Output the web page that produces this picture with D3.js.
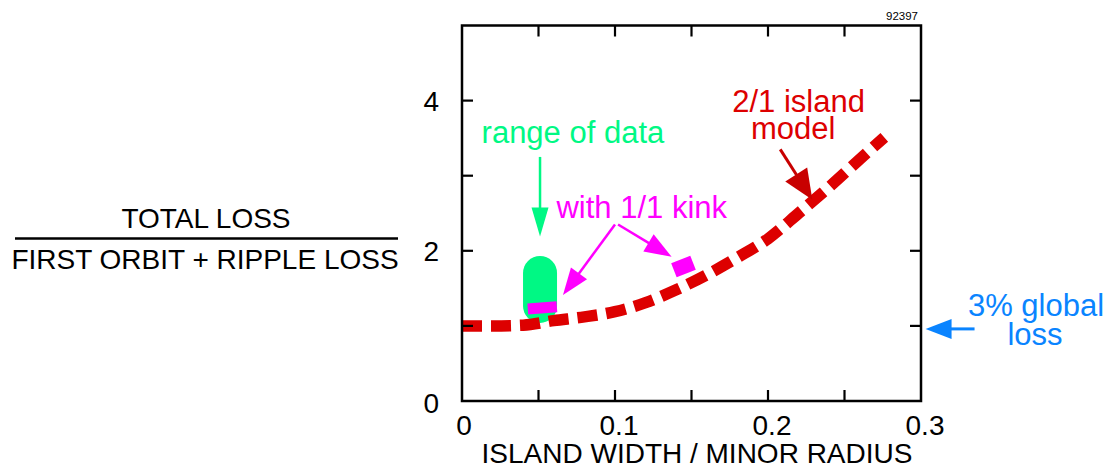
<!DOCTYPE html>
<html>
<head>
<meta charset="utf-8">
<script src="https://cdn.jsdelivr.net/npm/d3@7"></script>
<style>
  html, body { margin: 0; padding: 0; background: #fff; }
  svg { display: block; }
  text { font-family: "Liberation Sans", Arial, Helvetica, sans-serif; }
</style>
</head>
<body>
<svg id="chart" width="1112" height="468"></svg>
<script>
// 2/1 island model: total loss normalised to first-orbit + ripple loss
const islandWidth = [0, 0.02, 0.04, 0.06, 0.08, 0.10, 0.12, 0.14, 0.16, 0.18, 0.20, 0.22, 0.24, 0.26, 0.276];
const lossRatio   = [1.0, 1.0, 1.01, 1.07, 1.12, 1.19, 1.31, 1.48, 1.68, 1.91, 2.16, 2.50, 2.85, 3.22, 3.51];

// measured range of data (island width, min ratio, max ratio)
const dataRange = { x: 0.051, yMin: 1.04, yMax: 1.93 };

// model points with a 1/1 kink included: [x0, y0, x1, y1]
const kinkSegments = [
  [0.043, 1.225, 0.062, 1.255],
  [0.1385, 1.74, 0.151, 1.84]
];

// axis ticks
const xTicks = [0.05, 0.10, 0.15, 0.20, 0.25];
const xTickLabels = [0, 0.1, 0.2, 0.3];
const yTicks = [1, 2, 3, 4];
const yTickLabels = [0, 2, 4];

const svg = d3.select("#chart");
const plotLeft = 462, plotRight = 921, plotTop = 25.5, plotBottom = 401;

const x = d3.scaleLinear().domain([0, 0.3]).range([plotLeft, plotRight]);
const y = d3.scaleLinear().domain([0, 5]).range([plotBottom, plotTop]);

const RED = "#dd0000", DARKRED = "#c80000", GREEN = "#00f884", MAGENTA = "#ff00ff", BLUE = "#0a84ff";

// filled arrow: shaft from (x0,y0) to tip (x1,y1)
function arrow(x0, y0, x1, y1, color, headLen, headHalf, width) {
  const px0 = x(x0), py0 = y(y0), px1 = x(x1), py1 = y(y1);
  const dx = px1 - px0, dy = py1 - py0, len = Math.hypot(dx, dy);
  const ux = dx / len, uy = dy / len, nx = -uy, ny = ux;
  const bx = px1 - ux * headLen, by = py1 - uy * headLen;
  svg.append("line")
    .attr("x1", px0).attr("y1", py0).attr("x2", bx + ux).attr("y2", by + uy)
    .attr("stroke", color).attr("stroke-width", width);
  svg.append("path")
    .attr("d", `M${px1},${py1}L${bx + nx * headHalf},${by + ny * headHalf}L${bx - nx * headHalf},${by - ny * headHalf}Z`)
    .attr("fill", color);
}

// range of data capsule
const capW = 34;
svg.append("rect")
  .attr("x", x(dataRange.x) - capW / 2)
  .attr("y", y(dataRange.yMax))
  .attr("width", capW)
  .attr("height", y(dataRange.yMin) - y(dataRange.yMax))
  .attr("rx", capW / 2).attr("ry", capW / 2)
  .attr("fill", GREEN);

// model curve
const line = d3.line()
  .x((d, i) => x(islandWidth[i]))
  .y(d => y(d))
  .curve(d3.curveMonotoneX);

svg.append("path")
  .datum(lossRatio)
  .attr("d", line)
  .attr("fill", "none")
  .attr("stroke", RED)
  .attr("stroke-width", 11.5)
  .attr("stroke-dasharray", "20 9")
  .attr("stroke-linecap", "butt");

// 1/1 kink points
svg.selectAll("line.kink")
  .data(kinkSegments)
  .join("line")
  .attr("class", "kink")
  .attr("x1", d => x(d[0])).attr("y1", d => y(d[1]))
  .attr("x2", d => x(d[2])).attr("y2", d => y(d[3]))
  .attr("stroke", MAGENTA)
  .attr("stroke-width", (d, i) => i === 0 ? 11 : 15);

// frame
svg.append("rect")
  .attr("x", plotLeft).attr("y", plotTop)
  .attr("width", plotRight - plotLeft).attr("height", plotBottom - plotTop)
  .attr("fill", "none").attr("stroke", "#000").attr("stroke-width", 2.5);

// inward ticks on all four sides
const tickLen = 11;
const tickG = svg.append("g").attr("stroke", "#000").attr("stroke-width", 2.2);
xTicks.forEach(t => {
  tickG.append("line").attr("x1", x(t)).attr("x2", x(t)).attr("y1", plotBottom).attr("y2", plotBottom - tickLen);
  tickG.append("line").attr("x1", x(t)).attr("x2", x(t)).attr("y1", plotTop).attr("y2", plotTop + tickLen);
});
yTicks.forEach(t => {
  tickG.append("line").attr("x1", plotLeft).attr("x2", plotLeft + tickLen).attr("y1", y(t)).attr("y2", y(t));
  tickG.append("line").attr("x1", plotRight).attr("x2", plotRight - tickLen).attr("y1", y(t)).attr("y2", y(t));
});

// tick labels
svg.selectAll("text.xl")
  .data(xTickLabels)
  .join("text")
  .attr("class", "xl")
  .attr("x", d => x(d) + (d === 0 ? 2 : 4))
  .attr("y", 435)
  .attr("text-anchor", "middle")
  .attr("font-size", 28)
  .text(d => d);

svg.selectAll("text.yl")
  .data(yTickLabels)
  .join("text")
  .attr("class", "yl")
  .attr("x", 439)
  .attr("y", d => y(d) + 10 + (d === 0 ? 2 : 0))
  .attr("text-anchor", "end")
  .attr("font-size", 28)
  .text(d => d);

// axis titles
svg.append("text")
  .attr("x", 697).attr("y", 463)
  .attr("text-anchor", "middle").attr("font-size", 28)
  .text("ISLAND WIDTH / MINOR RADIUS");

svg.append("text")
  .attr("x", 206).attr("y", 228)
  .attr("text-anchor", "middle").attr("font-size", 28)
  .text("TOTAL LOSS");
svg.append("line")
  .attr("x1", 15).attr("x2", 398).attr("y1", 238.5).attr("y2", 238.5)
  .attr("stroke", "#000").attr("stroke-width", 2.3);
svg.append("text")
  .attr("x", 205).attr("y", 269)
  .attr("text-anchor", "middle").attr("font-size", 28)
  .text("FIRST ORBIT + RIPPLE LOSS");

// figure number
svg.append("text")
  .attr("x", 918).attr("y", 20)
  .attr("text-anchor", "end").attr("font-size", 11.5)
  .text("92397");

// annotations (two-line labels are one text element with tspans)
const ann = svg.append("g").attr("font-size", 31).attr("text-anchor", "middle");
function multiLine(lines, color) {
  const t = ann.append("text").attr("fill", color);
  lines.forEach(([s, px, py]) => t.append("tspan").attr("x", px).attr("y", py).text(s));
}
multiLine([["2/1 island", x(0.220), 112], ["model", x(0.2165), 139]], RED);
multiLine([["range of data", x(0.0725), 143]], GREEN);
multiLine([["with 1/1 kink", x(0.1175), 218]], MAGENTA);
multiLine([["3% global", 1036, 316], ["loss", 1035, 345]], BLUE);

arrow(0.051, 3.25, 0.051, 2.19, GREEN, 29, 8.5, 2.5);
arrow(0.100, 2.35, 0.066, 1.41, MAGENTA, 27, 10, 2.5);
arrow(0.102, 2.35, 0.137, 1.92, MAGENTA, 27, 10, 2.5);
arrow(0.208, 3.35, 0.229, 2.68, DARKRED, 30, 13, 3);
arrow(0.335, 0.96, 0.303, 0.96, BLUE, 26, 10, 3);
</script>
</body>
</html>
